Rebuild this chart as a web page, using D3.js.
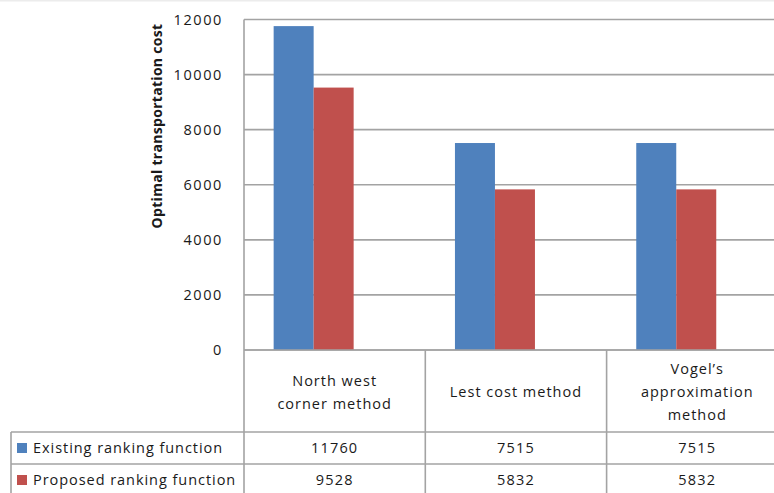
<!DOCTYPE html>
<html>
<head>
<meta charset="utf-8">
<script src="https://cdn.jsdelivr.net/npm/d3@7/dist/d3.min.js"></script>
<style>
  html, body { margin: 0; padding: 0; background: #fff; }
  svg { display: block; }
  text { font-family: "Open Sans", "Noto Sans", sans-serif; fill: #1a1a1a; }
</style>
</head>
<body>
<svg id="chart" width="774" height="493"></svg>
<script>
// Chart data
const categories = ["North west corner method", "Lest cost method", "Vogel\u2019s approximation method"];
const categoryLines = [["North west", "corner method"], ["Lest cost method"], ["Vogel\u2019s", "approximation", "method"]];
const seriesNames = ["Existing ranking function", "Proposed ranking function"];
const existingValues = [11760, 7515, 7515];
const proposedValues = [9528, 5832, 5832];
const yTicks = [0, 2000, 4000, 6000, 8000, 10000, 12000];
const seriesColors = ["#4F81BD", "#C0504D"];
const seriesValues = [existingValues, proposedValues];

const svg = d3.select("#chart");
const W = 774, H = 493;

// thin top strip
svg.append("rect").attr("x", 0).attr("y", 0).attr("width", W).attr("height", 1.5).attr("fill", "#ececec");

const plotLeft = 244, plotTop = 19.5, plotBottom = 350;

const y = d3.scaleLinear().domain([0, 12000]).range([plotBottom, plotTop]);

// table columns (one per category)
const xCol = d3.scaleBand().domain(categories).range([plotLeft, plotLeft + 3 * 181.3]);
// bar groups sit a little left of the column centres
const xGroup = d3.scaleBand().domain(categories).range([plotLeft - 21, plotLeft - 21 + 3 * 181.3]);
const xSeries = d3.scaleBand().domain(seriesNames).range([0, 80]);

// gridlines
const grid = svg.append("g");
yTicks.forEach(t => {
  grid.append("line")
    .attr("x1", plotLeft).attr("x2", W)
    .attr("y1", y(t)).attr("y2", y(t))
    .attr("stroke", "#a3a3a3").attr("stroke-width", 1.6);
});

// y axis (labels only, line drawn separately)
const yAxis = d3.axisLeft(y).tickValues(yTicks).tickSize(0).tickPadding(21).tickFormat(d3.format("d"));
const ya = svg.append("g").attr("transform", `translate(${plotLeft},0)`).call(yAxis);
ya.select(".domain").remove();
ya.selectAll("text")
  .style("font-family", "\"Open Sans\", sans-serif")
  .style("font-size", "14.5px")
  .style("letter-spacing", "1.6px")
  .attr("fill", "#1a1a1a");

// bars
const groups = svg.append("g").selectAll("g").data(categories).join("g")
  .attr("transform", d => `translate(${xGroup(d) + xGroup.bandwidth() / 2 - 40},0)`);
groups.selectAll("rect")
  .data((c, i) => seriesNames.map((s, k) => ({ s, k, v: seriesValues[k][i] })))
  .join("rect")
  .attr("x", d => xSeries(d.s))
  .attr("width", xSeries.bandwidth())
  .attr("y", d => y(d.v))
  .attr("height", d => y(0) - y(d.v))
  .attr("fill", d => seriesColors[d.k]);

// y-axis title
svg.append("text")
  .attr("transform", "translate(162,126) rotate(-90)")
  .attr("text-anchor", "middle")
  .style("font-size", "14px")
  .style("font-weight", "bold")
  .style("letter-spacing", "0.3px")
  .text("Optimal transportation cost");

// data table
const lineColor = "#a3a3a3";
const row1 = 432, row2 = 464, tableBottom = 493;
const tableLeft = 11;
const t = svg.append("g").attr("stroke", lineColor).attr("stroke-width", 1.6);
// plot-area left axis continued through table
t.append("line").attr("x1", plotLeft).attr("x2", plotLeft).attr("y1", plotTop).attr("y2", tableBottom);
xCol.domain().forEach((c, i) => {
  if (i > 0) t.append("line").attr("x1", xCol(c)).attr("x2", xCol(c)).attr("y1", plotBottom).attr("y2", tableBottom);
});
t.append("line").attr("x1", plotLeft).attr("x2", W).attr("y1", plotBottom).attr("y2", plotBottom);
[row1, row2].forEach(r => t.append("line").attr("x1", tableLeft).attr("x2", W).attr("y1", r).attr("y2", r));
t.append("line").attr("x1", tableLeft).attr("x2", tableLeft).attr("y1", row1).attr("y2", tableBottom);

// category labels
const catCenterY = 392, lineH = 23;
categories.forEach((c, i) => {
  const lines = categoryLines[i];
  const cx = xCol(c) + xCol.bandwidth() / 2;
  lines.forEach((ln, j) => {
    svg.append("text")
      .attr("x", cx)
      .attr("y", catCenterY + (j - (lines.length - 1) / 2) * lineH)
      .attr("dy", "0.35em")
      .attr("text-anchor", "middle")
      .style("font-size", "14.5px")
      .style("letter-spacing", "1px")
      .text(ln);
  });
});

// legend rows and values
const rowCenters = [448, 480];
seriesNames.forEach((s, k) => {
  const cy = rowCenters[k];
  svg.append("rect").attr("x", 17).attr("y", cy - 5).attr("width", 10).attr("height", 10).attr("fill", seriesColors[k]);
  svg.append("text").attr("x", 33).attr("y", cy).attr("dy", "0.35em")
    .style("font-size", "14.5px").style("letter-spacing", "0.95px").text(s);
  categories.forEach((c, i) => {
    svg.append("text")
      .attr("x", xCol(c) + xCol.bandwidth() / 2)
      .attr("y", cy).attr("dy", "0.35em")
      .attr("text-anchor", "middle")
      .style("font-size", "14.5px")
      .style("letter-spacing", "1.2px")
      .text(seriesValues[k][i]);
  });
});
</script>
</body>
</html>
